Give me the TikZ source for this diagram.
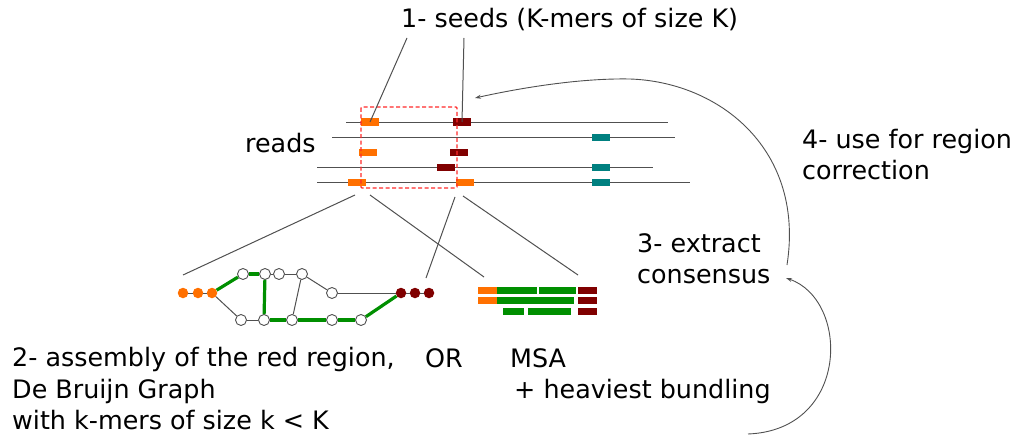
\documentclass[tikz,border=0pt]{standalone}
\usepackage{fontspec}
\setmainfont{DejaVu Sans}
\usetikzlibrary{arrows.meta}
\definecolor{seedorange}{HTML}{FF7000}
\definecolor{seedred}{HTML}{800000}
\definecolor{seedteal}{HTML}{008080}
\definecolor{pathgreen}{HTML}{008F00}
\definecolor{linegray}{HTML}{505050}
\definecolor{boxred}{HTML}{FF2A2A}
\begin{document}
\begin{tikzpicture}[x=1pt,y=-1pt,
  lbl/.style={anchor=base west,inner sep=0pt,font=\fontsize{25.4}{31}\selectfont},
  readline/.style={draw=linegray,line width=1pt},
  kblock/.style={rectangle,inner sep=0pt,minimum width=18pt,minimum height=7pt,fill=#1},
  thinedge/.style={draw=linegray,line width=1pt},
  greenedge/.style={draw=pathgreen,line width=3.2pt},
  gnode/.style={circle,draw=linegray,fill=white,line width=0.9pt,inner sep=0pt,minimum size=11pt},
  dot/.style={circle,fill=#1,inner sep=0pt,minimum size=10.5pt},
  msa/.style={rectangle,inner sep=0pt,minimum height=7pt,fill=#1},
  conn/.style={draw=linegray,line width=1pt},
  curvearrow/.style={draw=linegray,line width=0.9pt,-{Stealth[length=6pt,width=4pt]}}
]
\useasboundingbox (0,0) rectangle (1013,436);

% texts
\node[lbl] (t1) at (401,28) {1- seeds (K-mers of size K)};
\node[lbl] (treads) at (245,153) {reads};
\node[lbl] (t4a) at (802,148) {4- use for region};
\node[lbl] (t4b) at (802,179) {correction};
\node[lbl] (t3a) at (637,252) {3- extract};
\node[lbl] (t3b) at (637,283) {consensus};
\node[lbl] (t2a) at (12,366) {2- assembly of the red region,};
\node[lbl] (t2b) at (12,398) {De Bruijn Graph};
\node[lbl] (t2c) at (12,429) {with k-mers of size k < K};
\node[lbl] (tor) at (425,367) {OR};
\node[lbl] (tmsa) at (510,367) {MSA};
\node[lbl] (thb) at (514,398) {+ heaviest bundling};

% reads
\draw[readline] (346,122) -- (668,122);
\draw[readline] (332,137) -- (675,137);
\draw[readline] (317,167) -- (653,167);
\draw[readline] (317,182) -- (690,182);

% k-mer blocks
\node[kblock=seedorange] (o1) at (370,122) {};
\node[kblock=seedred] (r1) at (462,122) {};
\node[kblock=seedteal] (c2) at (601,137) {};
\node[kblock=seedorange] (o3) at (368,152) {};
\node[kblock=seedred] (r3) at (459,152) {};
\node[kblock=seedred] (r4) at (446,167) {};
\node[kblock=seedteal] (c4) at (601,167) {};
\node[kblock=seedorange] (o5) at (357,182) {};
\node[kblock=seedorange] (o6) at (465,182) {};
\node[kblock=seedteal] (c5) at (601,182) {};

% red dashed region
\draw[boxred,line width=1.4pt,dash pattern=on 4pt off 2.5pt,rounded corners=1pt] (361,107) rectangle (457,188);

% seed pointers
\coordinate (s1) at (407,38);
\coordinate (s2) at (464,38);
\draw[conn] (s1) -- (o1.center);
\draw[conn] (s2) -- (r1.center);

% de Bruijn graph
\node[dot=seedorange] (a1) at (183,293) {};
\node[dot=seedorange] (a2) at (198,293) {};
\node[dot=seedorange] (a3) at (212,293) {};
\node[gnode] (u1) at (243,274) {};
\node[gnode] (u2) at (265,274) {};
\node[gnode] (u3) at (279,274) {};
\node[gnode] (u4) at (302,274) {};
\node[gnode] (m1) at (332,293) {};
\node[gnode] (b1) at (241,320) {};
\node[gnode] (b2) at (264,320) {};
\node[gnode] (b3) at (292,320) {};
\node[gnode] (b4) at (332,320) {};
\node[gnode] (b5) at (361,320) {};
\node[dot=seedred] (z1) at (401,293) {};
\node[dot=seedred] (z2) at (415,293) {};
\node[dot=seedred] (z3) at (429,293) {};

\draw[thinedge] (a1) -- (a2) -- (a3);
\draw[thinedge] (z1) -- (z2) -- (z3);
\draw[thinedge] (a3) -- (b1);
\draw[thinedge] (u2) -- (u3);
\draw[thinedge] (u3) -- (u4);
\draw[thinedge] (u4) -- (m1);
\draw[thinedge] (u4) -- (b3);
\draw[thinedge] (m1) -- (z1);
\draw[thinedge] (b1) -- (b2);
\draw[greenedge] (a3) -- (u1);
\draw[greenedge] (u1) -- (u2);
\draw[greenedge] (u2) -- (b2);
\draw[greenedge] (b2) -- (b3);
\draw[greenedge] (b3) -- (b4);
\draw[greenedge] (b4) -- (b5);
\draw[greenedge] (b5) -- (z1);

% MSA
\node[msa=seedorange,minimum width=19pt] (p1) at (487.5,290.5) {};
\node[msa=pathgreen,minimum width=40pt] (p2) at (517,290.5) {};
\node[msa=pathgreen,minimum width=37pt] (p3) at (557.5,290.5) {};
\node[msa=seedred,minimum width=19pt] (p4) at (587.5,290.5) {};
\node[msa=seedorange,minimum width=19pt] (q1) at (487.5,300.5) {};
\node[msa=pathgreen,minimum width=77pt] (q2) at (535.5,300.5) {};
\node[msa=seedred,minimum width=19pt] (q4) at (587.5,300.5) {};
\node[msa=pathgreen,minimum width=21pt] (w1) at (513.5,311) {};
\node[msa=pathgreen,minimum width=43pt] (w2) at (549.5,311) {};
\node[msa=seedred,minimum width=19pt] (w4) at (587.5,311) {};

% connectors from the region to the two methods
\coordinate (e1) at (355,195);
\coordinate (e2) at (370,195);
\coordinate (e3) at (455,197);
\coordinate (e4) at (463,196);
\coordinate (f1) at (183,275);
\coordinate (f2) at (484,277);
\coordinate (f3) at (426,278);
\coordinate (f4) at (578,275);
\draw[conn] (e1) -- (f1);
\draw[conn] (e2) -- (f2);
\draw[conn] (e3) -- (f3);
\draw[conn] (e4) -- (f4);

% curved arrows
\coordinate (c3top) at (787,265);
\coordinate (seedtip) at (475,98);
\draw[curvearrow] (c3top) .. controls (805,150) and (720,82) .. (630,79)
  .. controls (580,78) and (520,88) .. (seedtip);
\coordinate (c2bot) at (748,434);
\coordinate (constip) at (786,278);
\draw[curvearrow] (c2bot) .. controls (850,430) and (850,300) .. (constip);
\end{tikzpicture}
\end{document}
